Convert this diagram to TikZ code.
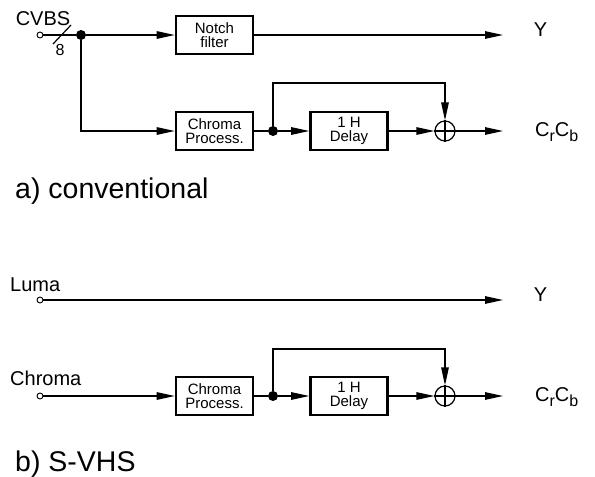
\documentclass[tikz,border=0pt]{standalone}
\usepackage{fontspec}
\setmainfont{Liberation Sans}
\usetikzlibrary{arrows.meta}
\begin{document}
\begin{tikzpicture}[x=1pt,y=-1pt,
  sig/.style={line width=1.2pt},
  arr/.style={sig,-{Triangle[length=18pt,width=7.5pt]}},
  blk/.style={draw,line width=2.6pt,minimum width=77pt,minimum height=38pt,inner sep=0pt,align=center,font=\fontsize{15}{13.5}\selectfont},
  dot/.style={circle,fill,inner sep=0pt,minimum size=10pt},
  term/.style={circle,draw,fill=white,line width=0.9pt,inner sep=0pt,minimum size=6pt},
  adder/.style={circle,draw,line width=1.2pt,inner sep=0pt,minimum size=20pt},
  lbl/.style={font=\fontsize{20}{22}\selectfont,inner sep=0pt},
  captxt/.style={font=\fontsize{28.5}{30}\selectfont,inner sep=0pt,anchor=base west}]
\useasboundingbox (0,0) rectangle (595,477);

% ---------- a) conventional ----------
\node[term] (in1) at (40,35) {};
\node[lbl,anchor=base] (cvbs) at (43,25) {CVBS};
\node[dot] (d1) at (81,35) {};
\node[blk] (notch) at (214.5,35) {Notch\\filter};
\node[blk] (cp1) at (214.5,131) {Chroma\\Process.};
\node[dot] (d2) at (273,131) {};
\node[blk] (del1) at (349,131) {1 H\\Delay};
\node[adder] (add1) at (445,131) {};
\coordinate (fb1) at (445,83);
\coordinate (yout1) at (503,35);
\coordinate (cout1) at (503,131);
\node[lbl,anchor=base] (y1) at (540.5,36) {Y};
\node[lbl,anchor=base west] (c1) at (535,136) {C\raisebox{-5pt}{\fontsize{16}{16}\selectfont r}C\raisebox{-5pt}{\fontsize{16}{16}\selectfont b}};

\draw[sig] (in1) -- (d1);
\draw[sig] (53,44) -- (71,25);
\node[font=\fontsize{16}{16}\selectfont,inner sep=0pt] (n8) at (60,50) {8};
\draw[arr] (d1) -- (notch.west);
\draw[arr] (notch.east) -- (yout1);
\draw[arr] (d1) |- (cp1.west);
\draw[sig] (cp1.east) -- (d2);
\draw[arr] (d2) -- (del1.west);
\draw[arr] (d2) |- (fb1) -- (add1.north);
\draw[arr] (del1.east) -- (add1.west);
\draw[sig] (add1.north) -- (add1.south) (add1.west) -- (add1.east);
\draw[arr] (add1.east) -- (cout1);

\node[captxt] (capa) at (15,198) {a) conventional};

% ---------- b) S-VHS ----------
\node[term] (in2) at (40,300) {};
\node[lbl,anchor=base west] (luma) at (10,291) {Luma};
\coordinate (yout2) at (503,300);
\node[lbl,anchor=base] (y2) at (540.5,301) {Y};
\draw[arr] (in2) -- (yout2);

\node[term] (in3) at (40,396) {};
\node[lbl,anchor=base west] (chroma) at (10,385) {Chroma};
\node[blk] (cp2) at (214.5,396) {Chroma\\Process.};
\node[dot] (d3) at (273,396) {};
\node[blk] (del2) at (349,396) {1 H\\Delay};
\node[adder] (add2) at (445,396) {};
\coordinate (fb2) at (445,349);
\coordinate (cout2) at (503,396);
\node[lbl,anchor=base west] (c2) at (535,401) {C\raisebox{-5pt}{\fontsize{16}{16}\selectfont r}C\raisebox{-5pt}{\fontsize{16}{16}\selectfont b}};

\draw[arr] (in3) -- (cp2.west);
\draw[sig] (cp2.east) -- (d3);
\draw[arr] (d3) -- (del2.west);
\draw[arr] (d3) |- (fb2) -- (add2.north);
\draw[arr] (del2.east) -- (add2.west);
\draw[sig] (add2.north) -- (add2.south) (add2.west) -- (add2.east);
\draw[arr] (add2.east) -- (cout2);

\node[captxt] (capb) at (15,471) {b) S-VHS};
\end{tikzpicture}
\end{document}
